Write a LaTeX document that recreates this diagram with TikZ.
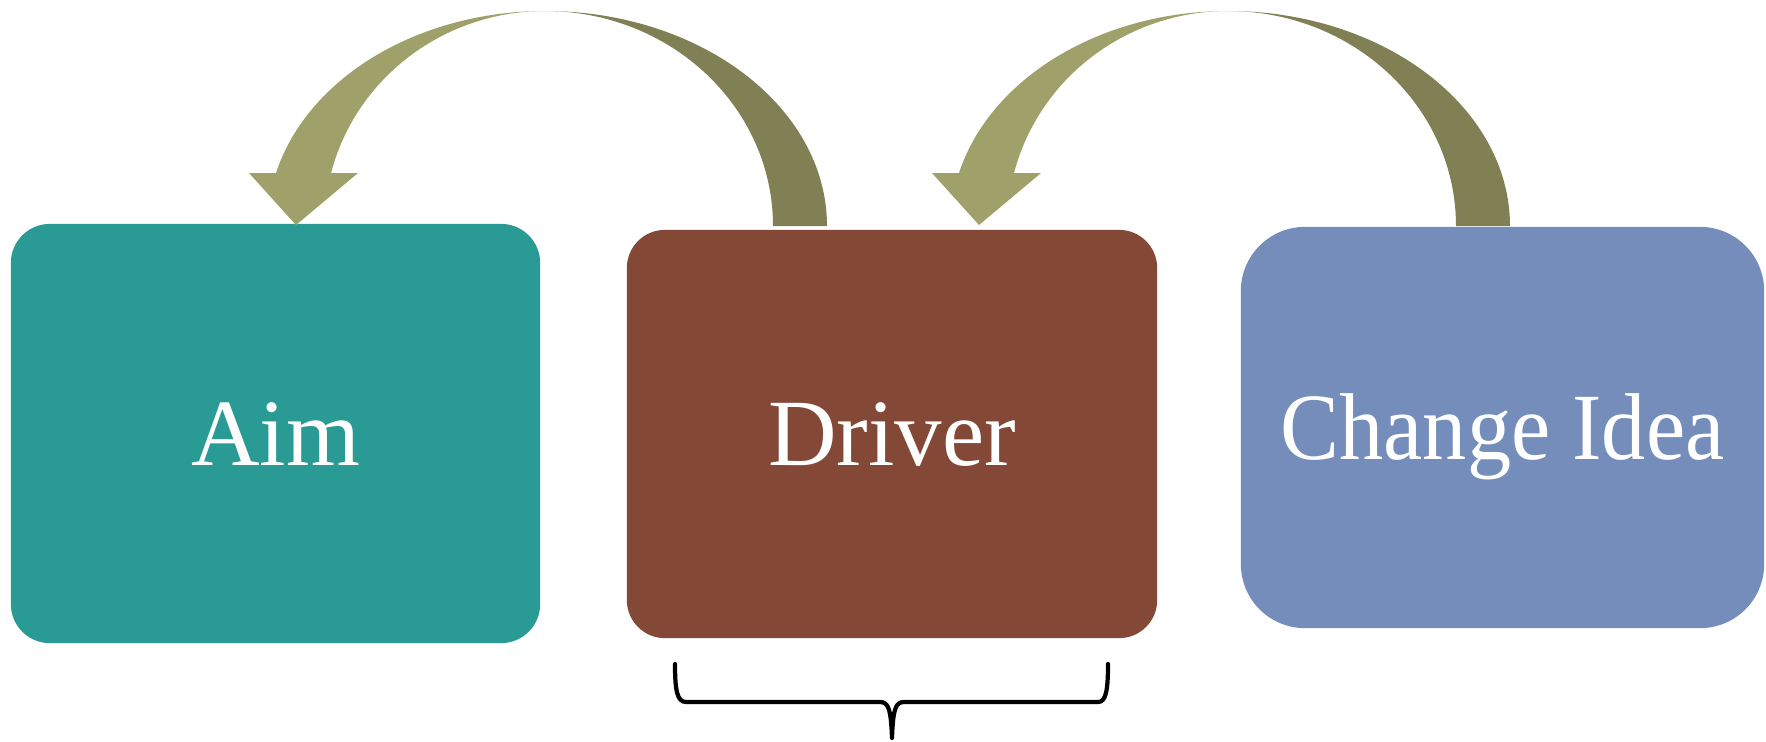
\documentclass[tikz,border=0pt]{standalone}
\usepackage{fontspec}
\setmainfont{Liberation Serif}
\newfontfamily\ideafont[FakeStretch=0.93]{Liberation Serif}
\usepackage{tikz}
\usetikzlibrary{positioning}

\definecolor{aimcol}{RGB}{41,155,148}
\definecolor{drivercol}{RGB}{132,72,55}
\definecolor{ideacol}{RGB}{117,141,187}
\definecolor{olivelight}{RGB}{160,160,106}
\definecolor{olivedark}{RGB}{128,128,84}

\tikzset{
	box/.style={fill=#1, text=white, inner sep=0pt, text height=0.63cm, text depth=0pt,
		font=\fontsize{27}{32}\selectfont},
}

\begin{document}
\begin{tikzpicture}[x=0.01cm, y=0.01cm]
			\useasboundingbox (0,0) rectangle (1766,-741);
			
			% Kaesten
			\node[box=aimcol, minimum width=5.29cm, minimum height=4.19cm, rounded corners=0.39cm] (aim) at (275.5,-433.5) {Aim};
			\node[box=drivercol, minimum width=5.30cm, minimum height=4.08cm, rounded corners=0.38cm] (driver) at (892,-434) {Driver};
			\node[box=ideacol, minimum width=5.23cm, minimum height=4.01cm, rounded corners=0.64cm] (idea) at (1502.5,-427.5) {\ideafont Change Idea};
			
			% Pfeile
			\foreach \dx in {0,683} {
				\begin{scope}[xshift=\dx*0.01cm]
					\fill[olivedark] (545,-11) arc[start angle=90, end angle=0, x radius=282, y radius=215]
						-- (773,-226) arc[start angle=0, end angle=90, x radius=228, y radius=215] -- cycle;
					\fill[olivelight] (276,-173) arc[start angle=165.73, end angle=90, x radius=277.6, y radius=215]
						arc[start angle=90, end angle=165.73, x radius=220.8, y radius=215]
						-- (358,-173) -- (296,-225) -- (249,-173) -- cycle;
				\end{scope}
			}
			
			% Klammer
			\draw[line width=1.2pt, line cap=round, line join=round]
				(675,-664) .. controls (675,-690) and (677,-702) .. (686,-702) -- (880,-702)
				.. controls (888,-702) and (891,-708) .. (892,-738)
				.. controls (893,-708) and (896,-702) .. (904,-702) -- (1098,-702)
				.. controls (1106,-702) and (1108,-690) .. (1108,-664);
		\end{tikzpicture}
\end{document}
